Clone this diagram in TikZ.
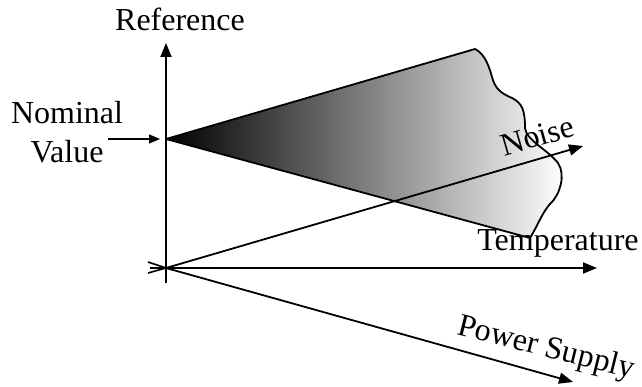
\documentclass[tikz,border=0pt]{standalone}
\usepackage{fontspec}
\setmainfont{Liberation Serif}
\usetikzlibrary{arrows.meta,positioning,calc}

\begin{document}
\begin{tikzpicture}[
        x=1pt, y=-1pt,
        axis/.style={line width=1.8pt, -{Triangle[length=14pt,width=11pt]}},
        tail/.style={line width=1.6pt},
        lbl/.style={font=\fontsize{32}{39}\selectfont, inner sep=0pt},
        band/.style={draw=black, line width=1.8pt, line join=round, shading=axis, left color=black, right color=white}
    ]
    \useasboundingbox (0,0) rectangle (642,387);

    % key points
    \coordinate (O) at (166,268);
    \coordinate (nom) at (166,139);
    \coordinate (top) at (166,43);
    \coordinate (bot) at (166,283);
    \coordinate (ntip) at (583,146);
    \coordinate (ttip) at (597,268);
    \coordinate (ptip) at (573,382);
    \coordinate (narr) at (108,139);
    \coordinate (nend) at (160,139);

    % shaded error band
    \path[band] (nom) -- (475,49)
        .. controls (483,53) and (488,62) .. (492,77)
        .. controls (495,88) and (500,93) .. (512,98)
        .. controls (522,103) and (525,110) .. (525,128)
        .. controls (526,140) and (548,150) .. (558,163)
        .. controls (566,175) and (560,195) .. (550,204)
        .. controls (542,213) and (538,225) .. (530,238)
        -- cycle;

    % axes
    \draw[axis] (bot) -- (top);
    \draw[axis] (O) -- (ttip);
    \draw[axis] (O) -- (ntip);
    \draw[axis] (O) -- (ptip);

    % tails at the origin
    \draw[tail] (148,262) -- (O);
    \draw[tail] (150,268) -- (O);
    \draw[tail] (148,273) -- (O);

    % labels
    \node[lbl] (reflbl) at (180,19) {Reference};
    \node[lbl, align=center] (nomlbl) at (67,132) {Nominal\\Value};
    \draw[line width=1.2pt, -{Triangle[length=11pt,width=9pt]}] (narr) -- (nend);
    \node[lbl, rotate=16] (noiselbl) at (537,136) {Noise};
    \node[lbl] (templbl) at (558,243) {Temperature};
    \node[lbl, rotate=-14] (pwrlbl) at (546,349) {Power Supply};
\end{tikzpicture}
\end{document}
